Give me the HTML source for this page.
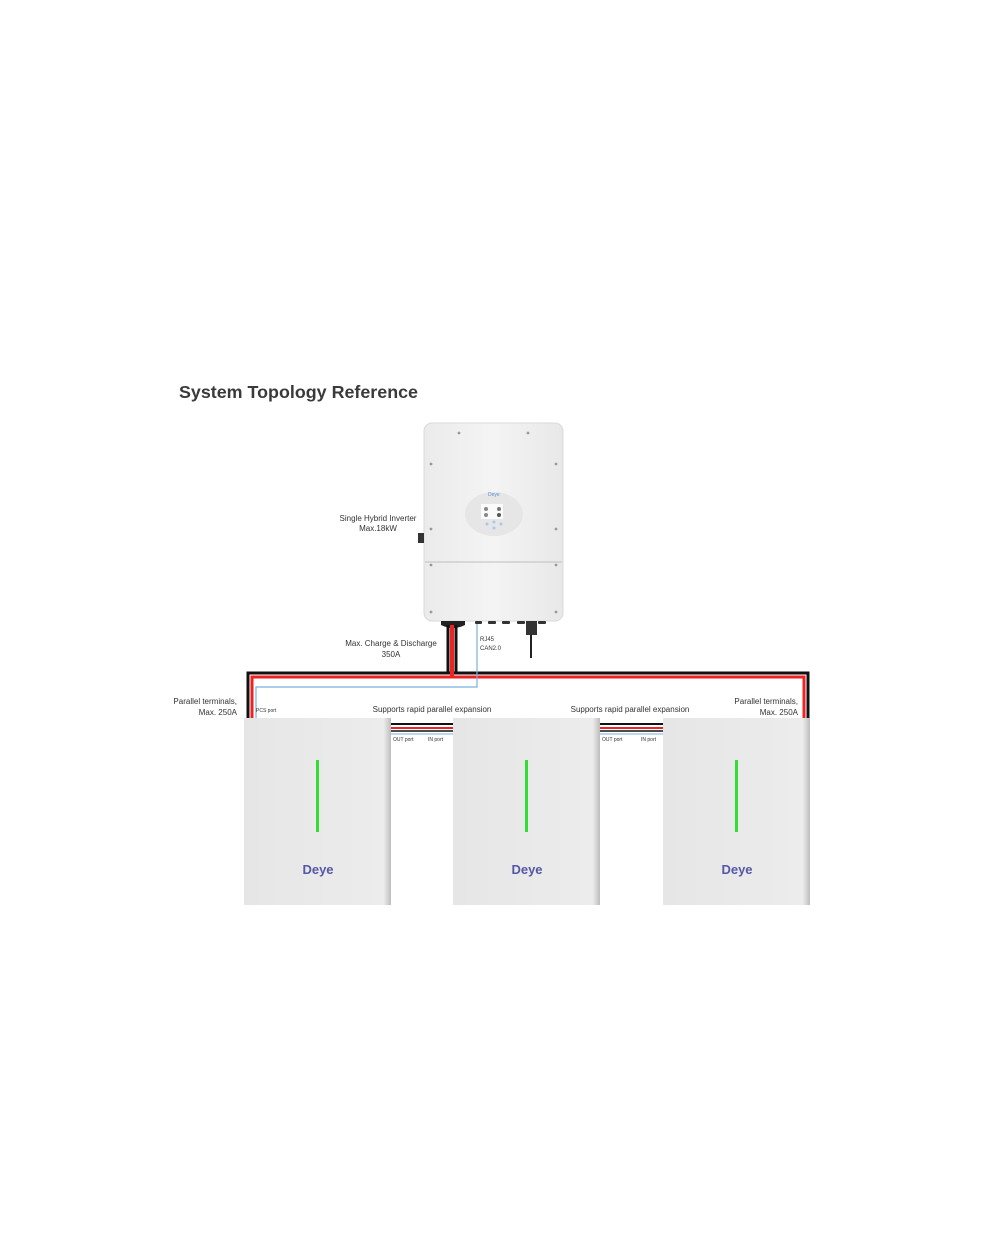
<!DOCTYPE html>
<html><head><meta charset="utf-8"><style>
html,body{margin:0;padding:0;background:#fff;}
svg{display:block;}
text{font-family:"Liberation Sans",sans-serif;}
</style></head><body>
<svg width="1000" height="1257" viewBox="0 0 1000 1257" xmlns="http://www.w3.org/2000/svg">
<defs>
<linearGradient id="bg" x1="0" y1="0" x2="1" y2="0">
<stop offset="0" stop-color="#e6e6e6"/><stop offset="0.95" stop-color="#ececec"/><stop offset="1" stop-color="#bdbdbd"/>
</linearGradient>
<linearGradient id="ig" x1="0" y1="0" x2="1" y2="0">
<stop offset="0" stop-color="#ebebeb"/><stop offset="0.5" stop-color="#f4f4f4"/><stop offset="1" stop-color="#e8e8e8"/>
</linearGradient>
</defs>
<rect width="1000" height="1257" fill="#fff"/>
<text x="179" y="398" font-size="17.5" font-weight="bold" fill="#3a3a3a" textLength="239" lengthAdjust="spacingAndGlyphs">System Topology Reference</text>

<rect x="424" y="423" width="139" height="198" rx="8" fill="url(#ig)" stroke="#dadada"/>
<line x1="425" y1="562" x2="562" y2="562" stroke="#c8c8c8" stroke-width="1.2"/>
<g fill="#9a9a9a">
<circle cx="459" cy="433" r="1.4"/><circle cx="528" cy="433" r="1.4"/>
<circle cx="431" cy="464" r="1.4"/><circle cx="556" cy="464" r="1.4"/>
<circle cx="431" cy="529" r="1.4"/><circle cx="556" cy="529" r="1.4"/>
<circle cx="431" cy="565" r="1.4"/><circle cx="556" cy="565" r="1.4"/>
<circle cx="431" cy="612" r="1.4"/><circle cx="556" cy="612" r="1.4"/>
</g>
<ellipse cx="494" cy="514" rx="29" ry="22" fill="#e6e6e6"/>
<rect x="481" y="504" width="22" height="15" fill="#fafafa"/>
<text x="488" y="496" font-size="5" fill="#5a8fd8">Deye</text>
<circle cx="486" cy="509" r="2" fill="#888"/><circle cx="499" cy="509" r="2" fill="#777"/>
<circle cx="486" cy="515" r="2" fill="#888"/><circle cx="499" cy="515" r="2" fill="#555"/>
<circle cx="487" cy="524" r="1.5" fill="#a8c8ee"/><circle cx="494" cy="522" r="1.5" fill="#a8c8ee"/><circle cx="501" cy="524" r="1.5" fill="#a8c8ee"/><circle cx="494" cy="528" r="1.5" fill="#a8c8ee"/>
<rect x="418" y="533" width="6" height="10" fill="#333"/>
<path d="M441 621 h24 v4 q-12 6 -24 0z" fill="#222"/>
<rect x="475" y="621" width="7" height="3" rx="1" fill="#333"/>
<rect x="488" y="621" width="8" height="3" rx="1" fill="#333"/>
<rect x="502" y="621" width="8" height="3" rx="1" fill="#333"/>
<rect x="517" y="621" width="8" height="3" rx="1" fill="#333"/>
<rect x="526" y="621" width="11" height="14" fill="#333"/>
<line x1="531" y1="635" x2="531" y2="658" stroke="#222" stroke-width="2"/>
<rect x="538" y="621" width="8" height="3" rx="1" fill="#333"/>

<path d="M248 718 V673 H808 V718" fill="none" stroke="#111" stroke-width="3"/>
<path d="M252 718 V677 H804 V718" fill="none" stroke="#e22" stroke-width="3"/>
<path d="M448 625 V673" stroke="#111" stroke-width="3"/>
<path d="M452 625 V677" stroke="#e22" stroke-width="4"/>
<path d="M456 625 V673" stroke="#111" stroke-width="3"/>
<path d="M477 624 V687 H256 V718" fill="none" stroke="#7ab0dc" stroke-width="1.2"/>

<g>
<line x1="391" y1="724" x2="453" y2="724" stroke="#111" stroke-width="2"/>
<line x1="391" y1="728" x2="453" y2="728" stroke="#e22" stroke-width="2"/>
<line x1="391" y1="731" x2="453" y2="731" stroke="#111" stroke-width="1.5"/>
<line x1="391" y1="734" x2="453" y2="734" stroke="#7ab0dc" stroke-width="1"/>
<line x1="600" y1="724" x2="663" y2="724" stroke="#111" stroke-width="2"/>
<line x1="600" y1="728" x2="663" y2="728" stroke="#e22" stroke-width="2"/>
<line x1="600" y1="731" x2="663" y2="731" stroke="#111" stroke-width="1.5"/>
<line x1="600" y1="734" x2="663" y2="734" stroke="#7ab0dc" stroke-width="1"/>
</g>

<g>
<rect x="244" y="718" width="147" height="187" fill="url(#bg)"/>
<rect x="453" y="718" width="147" height="187" fill="url(#bg)"/>
<rect x="663" y="718" width="147" height="187" fill="url(#bg)"/>
<line x1="317.5" y1="760" x2="317.5" y2="832" stroke="#33dd33" stroke-width="3"/>
<line x1="526.5" y1="760" x2="526.5" y2="832" stroke="#33dd33" stroke-width="3"/>
<line x1="736.5" y1="760" x2="736.5" y2="832" stroke="#33dd33" stroke-width="3"/>
<text x="318" y="874" font-size="13" font-weight="bold" fill="#5558a8" text-anchor="middle">Deye</text>
<text x="527" y="874" font-size="13" font-weight="bold" fill="#5558a8" text-anchor="middle">Deye</text>
<text x="737" y="874" font-size="13" font-weight="bold" fill="#5558a8" text-anchor="middle">Deye</text>
</g>

<g font-size="8" fill="#333">
<text x="378" y="521" text-anchor="middle">Single Hybrid Inverter</text>
<text x="378" y="531" text-anchor="middle">Max.18kW</text>
<text x="391" y="646" text-anchor="middle">Max.  Charge &amp; Discharge</text>
<text x="391" y="657" text-anchor="middle">350A</text>
<text x="480" y="641" font-size="6">RJ45</text>
<text x="480" y="650" font-size="6">CAN2.0</text>
<text x="237" y="704" text-anchor="end">Parallel terminals,</text>
<text x="237" y="715" text-anchor="end">Max. 250A</text>
<text x="798" y="704" text-anchor="end">Parallel terminals,</text>
<text x="798" y="715" text-anchor="end">Max. 250A</text>
<text x="256" y="712" font-size="5">PCS port</text>
<text x="432" y="712" text-anchor="middle">Supports rapid parallel expansion</text>
<text x="630" y="712" text-anchor="middle">Supports rapid parallel expansion</text>
<text x="393" y="741" font-size="5">OUT port</text>
<text x="428" y="741" font-size="5">IN port</text>
<text x="602" y="741" font-size="5">OUT port</text>
<text x="641" y="741" font-size="5">IN port</text>
</g>
</svg>
</body></html>
